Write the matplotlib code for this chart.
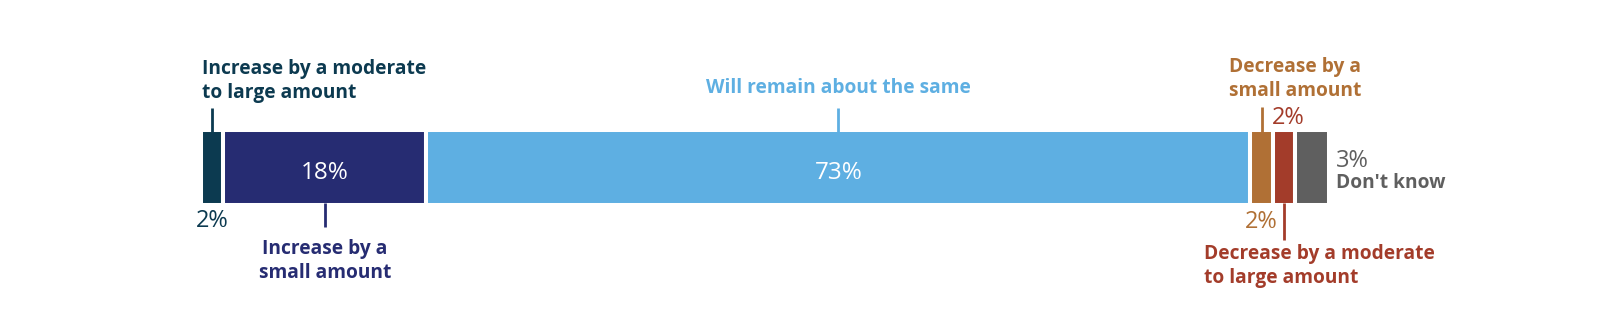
import matplotlib
matplotlib.use("Agg")
import matplotlib.pyplot as plt
import numpy as np

# Datos de la barra apilada (porcentajes)
categorias = [
    "Increase by a moderate\nto large amount",
    "Increase by a\nsmall amount",
    "Will remain about the same",
    "Decrease by a\nsmall amount",
    "Decrease by a moderate\nto large amount",
    "Don't know",
]
valores = [2, 18, 73, 2, 2, 3]
etiquetas = ["2%", "18%", "73%", "2%", "2%", "3%"]
colores = ["#0c3a50", "#262c72", "#5eafe2", "#b07035", "#a33c2a", "#5f5f5f"]

plt.rcParams["font.family"] = ["Open Sans", "DejaVu Sans"]

# Escala: pixeles por punto porcentual y borde izquierdo de la barra
PX_POR_PCT = 11.286
X0 = 200.7


def px(x):
    # convierte pixel horizontal a unidades de porcentaje
    return (x - X0) / PX_POR_PCT


def crear_grafica():
    fig = plt.figure(figsize=(16, 3.33), dpi=100)
    ax = fig.add_axes([0, 0, 1, 1])
    ax.set_xlim(px(0), px(1600))
    ax.set_ylim(333, 0)
    ax.axis("off")

    inicio = np.concatenate([[0], np.cumsum(valores)[:-1]])
    centro = inicio + np.array(valores) / 2
    ax.barh(167.7, valores, left=inicio, height=75.3, color=colores,
            edgecolor="white", linewidth=2.9)

    arriba, abajo = 132, 203.3

    # porcentajes dentro de las barras grandes
    for i in (1, 2):
        ax.text(centro[i], 173, etiquetas[i], color="white", fontsize=17.5,
                ha="center", va="center")

    # lineas guia
    def guia(i, y1, y2):
        ax.plot([centro[i], centro[i]], [y1, y2], color=colores[i], lw=2,
                solid_capstyle="butt")

    guia(0, 108, arriba)
    guia(1, abajo, 227)
    guia(2, 108, arriba)
    guia(3, 107, arriba)
    guia(4, abajo, 240)

    negrita = dict(fontsize=13.8, fontweight="bold", linespacing=1.32)
    pct = dict(fontsize=17, ha="center", va="center")

    # Incremento moderado a grande
    ax.text(px(202), 81, categorias[0], color=colores[0], ha="left",
            va="center", **negrita)
    ax.text(centro[0], 221, etiquetas[0], color=colores[0], **pct)

    # Incremento pequeno
    ax.text(centro[1], 261, categorias[1], color=colores[1], ha="center",
            va="center", multialignment="center", **negrita)

    # Sin cambio
    ax.text(centro[2], 88, categorias[2], color=colores[2], ha="center",
            va="center", **negrita)

    # Disminucion pequena
    ax.text(px(1229), 79, categorias[3], color=colores[3], ha="left",
            va="center", **negrita)
    ax.text(centro[3], 222, etiquetas[3], color=colores[3], **pct)

    # Disminucion moderada a grande
    ax.text(centro[4] + px(1290) - px(1286), 118.5, etiquetas[4],
            color=colores[4], **pct)
    ax.text(px(1204), 266, categorias[4], color=colores[4], ha="left",
            va="center", **negrita)

    # No sabe
    ax.text(px(1336), 161, etiquetas[5], color=colores[5], fontsize=17,
            ha="left", va="center")
    ax.text(px(1336), 183, categorias[5], color=colores[5], ha="left",
            va="center", fontsize=13.8, fontweight="bold")

    fig.savefig("out.png", dpi=100)


def main():
    crear_grafica()


if __name__ == "__main__":
    main()
